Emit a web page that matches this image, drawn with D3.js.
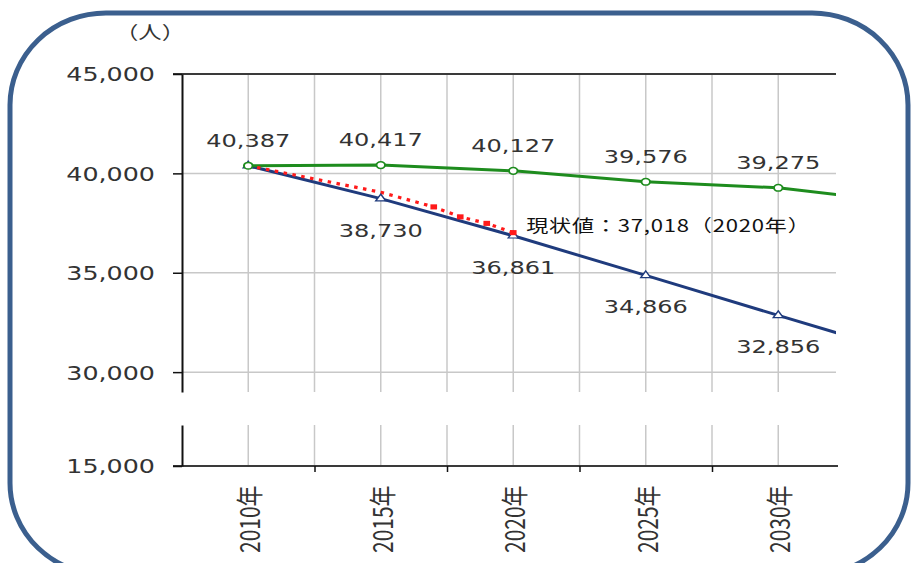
<!DOCTYPE html>
<html>
<head>
<meta charset="utf-8">
<script src="https://cdn.jsdelivr.net/npm/d3@7"></script>
<style>
  body { margin: 0; background: #fff; }
  svg { display: block; }
</style>
</head>
<body>
<div id="chart"></div>
<script>
// data
const categories = ['2010年', '2015年', '2020年', '2025年', '2030年']
const catYears = [2010, 2015, 2020, 2025, 2030]
// projection years, last one runs off the right edge of the plot
const projYears = [2010, 2015, 2020, 2025, 2030, 2035]
const targetValues = [40387, 40417, 40127, 39576, 39275, 38500]
const trendValues = [40387, 38730, 36861, 34866, 32856, 30870]
// actual population (red dotted), markers only on the yearly points
const actualYears = [2010, 2015, 2017, 2018, 2019, 2020]
const actualValues = [40387, 39050, 38314, 37811, 37484, 37018]
const markedYears = [2017, 2018, 2019, 2020]
const upperTicks = [30000, 35000, 40000, 45000]
const lowerTicks = [15000]
const unitLabel = '（人）'
const noteText = '現状値：37,018（2020年）'

const W = 911, H = 563
const SX = 1.3 // the reference is stretched sideways
const green = '#1e8c1e', navy = '#1f3b7d', red = '#ff1a1a'
const gridColor = '#c8c8c8', axisColor = '#3a3a3a', textColor = '#333'

const svg = d3.select('#chart').append('svg')
    .attr('width', W)
    .attr('height', H)

svg.append('rect').attr('width', W).attr('height', H).attr('fill', '#fff')

// rounded frame
svg.append('rect')
    .attr('x', 10).attr('y', 13)
    .attr('width', 898).attr('height', 562)
    .attr('rx', 96).attr('ry', 92)
    .attr('fill', 'none')
    .attr('stroke', '#3b5f8e')
    .attr('stroke-width', 5)

const left = 182, right = 836

const x = d3.scaleLinear().domain([2007.5, 2032.5]).range([left, 844.5])
const yTop = d3.scaleLinear().domain([29000, 45000]).range([392, 74])
const yBot = d3.scaleLinear().domain([15000, 17050]).range([466, 425])

const gridYears = d3.range(2007.5, 2031, 2.5).filter(v => v > 2007.5)
const boundaryYears = [2012.5, 2017.5, 2022.5, 2027.5]

// vertical gridlines, both segments
const grid = svg.append('g')
grid.selectAll('.vg-top').data(gridYears).join('line')
    .attr('x1', d => x(d)).attr('x2', d => x(d))
    .attr('y1', yTop(45000)).attr('y2', yTop.range()[0])
    .attr('stroke', gridColor).attr('stroke-width', 1.5)
grid.selectAll('.vg-bot').data(gridYears).join('line')
    .attr('x1', d => x(d)).attr('x2', d => x(d))
    .attr('y1', yBot.range()[1]).attr('y2', yBot(15000))
    .attr('stroke', gridColor).attr('stroke-width', 1.5)

// horizontal gridlines
grid.selectAll('.hg').data(upperTicks.filter(d => d < 45000)).join('line')
    .attr('x1', left).attr('x2', right)
    .attr('y1', d => yTop(d)).attr('y2', d => yTop(d))
    .attr('stroke', gridColor).attr('stroke-width', 1.5)

// top line at 45,000 and bottom axis line at 15,000
svg.append('line')
    .attr('x1', left - 9).attr('x2', right)
    .attr('y1', yTop(45000)).attr('y2', yTop(45000))
    .attr('stroke', axisColor).attr('stroke-width', 2)
svg.append('line')
    .attr('x1', left - 9).attr('x2', right + 2)
    .attr('y1', yBot(15000)).attr('y2', yBot(15000))
    .attr('stroke', axisColor).attr('stroke-width', 2)

// y axes (broken)
function styleYAxis(g) {
    g.select('.domain').attr('stroke', '#111').attr('stroke-width', 2)
    g.selectAll('.tick line').attr('stroke', '#111').attr('stroke-width', 1.5)
    g.selectAll('.tick text')
        .attr('x', null).attr('dy', null)
        .attr('transform', `translate(-27, 0) scale(${SX},1)`)
        .attr('dominant-baseline', 'central')
        .attr('fill', textColor)
        .style('font-family', '"DejaVu Sans", Verdana, sans-serif')
        .style('font-size', '19.5px')
}
svg.append('g')
    .attr('transform', `translate(${left}, 0)`)
    .call(d3.axisLeft(yTop).tickValues(upperTicks).tickSize(9).tickSizeOuter(0).tickFormat(d3.format(',')))
    .call(styleYAxis)
svg.append('g')
    .attr('transform', `translate(${left}, 0)`)
    .call(d3.axisLeft(yBot).tickValues(lowerTicks).tickSize(9).tickSizeOuter(0).tickFormat(d3.format(',')))
    .call(styleYAxis)

// x ticks at category boundaries
const xAxis = svg.append('g')
    .attr('transform', `translate(0, ${yBot(15000)})`)
    .call(d3.axisBottom(x).tickValues(boundaryYears).tickSize(6).tickFormat(''))
xAxis.select('.domain').remove()
xAxis.selectAll('.tick line').attr('stroke', '#111').attr('stroke-width', 1.5)

// rotated category labels
svg.append('g').selectAll('text').data(categories).join('text')
    .attr('transform', (d, i) => `translate(${x(catYears[i])}, 553) scale(${SX},1) rotate(-90)`)
    .attr('dominant-baseline', 'central')
    .attr('text-anchor', 'start')
    .attr('fill', textColor)
    .style('font-family', '"Noto Sans CJK JP", sans-serif')
    .style('font-size', '21px')
    .text(d => d)

// unit
svg.append('text')
    .attr('transform', `translate(150, 39) scale(${SX},1)`)
    .attr('text-anchor', 'middle')
    .attr('fill', textColor)
    .style('font-family', '"Noto Sans CJK JP", sans-serif')
    .style('font-size', '18px')
    .text(unitLabel)

// lines, clipped to the plot
svg.append('clipPath').attr('id', 'plot-clip')
    .append('rect').attr('x', left).attr('y', 60).attr('width', right - left).attr('height', 340)

const plot = svg.append('g').attr('clip-path', 'url(#plot-clip)')

const lineTop = d3.line().x(d => x(d[0])).y(d => yTop(d[1]))

plot.append('path')
    .datum(d3.zip(projYears, trendValues))
    .attr('fill', 'none').attr('stroke', navy).attr('stroke-width', 3)
    .attr('d', lineTop)
plot.append('path')
    .datum(d3.zip(projYears, targetValues))
    .attr('fill', 'none').attr('stroke', green).attr('stroke-width', 3)
    .attr('d', lineTop)

// markers
const tri = d3.symbol().type(d3.symbolTriangle).size(26)
svg.append('g').selectAll('path').data(catYears).join('path')
    .attr('d', tri)
    .attr('transform', (d, i) => `translate(${x(d)}, ${yTop(trendValues[i])}) scale(${SX},1)`)
    .attr('fill', '#fff').attr('stroke', navy).attr('stroke-width', 1.2)

plot.append('path')
    .datum(d3.zip(actualYears, actualValues))
    .attr('fill', 'none').attr('stroke', red).attr('stroke-width', 3.2)
    .attr('stroke-dasharray', '3.5,5.5')
    .attr('d', lineTop)

const sq = d3.symbol().type(d3.symbolSquare).size(26)
svg.append('g').selectAll('path').data(markedYears).join('path')
    .attr('d', sq)
    .attr('transform', d => `translate(${x(d)}, ${yTop(actualValues[actualYears.indexOf(d)])}) scale(${SX},1)`)
    .attr('fill', red)

svg.append('g').selectAll('circle').data(catYears).join('circle')
    .attr('transform', (d, i) => `translate(${x(d)}, ${yTop(targetValues[i])}) scale(${SX},1)`)
    .attr('r', 3.3)
    .attr('fill', '#fff').attr('stroke', green).attr('stroke-width', 1.5)

// data labels
const fmt = d3.format(',')
const labelFont = '"DejaVu Sans", Verdana, sans-serif'
svg.append('g').selectAll('text').data(catYears).join('text')
    .attr('transform', (d, i) => `translate(${x(d)}, ${yTop(targetValues[i]) - 19}) scale(${SX},1)`)
    .attr('text-anchor', 'middle')
    .attr('fill', textColor)
    .style('font-family', labelFont)
    .style('font-size', '18.5px')
    .text((d, i) => fmt(targetValues[i]))
svg.append('g').selectAll('text').data(catYears.slice(1)).join('text')
    .attr('transform', (d, i) => `translate(${x(d)}, ${yTop(trendValues[i + 1]) + 38}) scale(${SX},1)`)
    .attr('text-anchor', 'middle')
    .attr('fill', textColor)
    .style('font-family', labelFont)
    .style('font-size', '18.5px')
    .text((d, i) => fmt(trendValues[i + 1]))

// note for the actual value
svg.append('text')
    .attr('transform', `translate(${x(2020) + 13}, ${yTop(37018) - 1}) scale(${SX},1)`)
    .attr('fill', '#111')
    .style('font-family', '"Noto Sans CJK JP", sans-serif')
    .style('font-size', '17px')
    .style('letter-spacing', '0.6px')
    .text(noteText)
</script>
</body>
</html>
